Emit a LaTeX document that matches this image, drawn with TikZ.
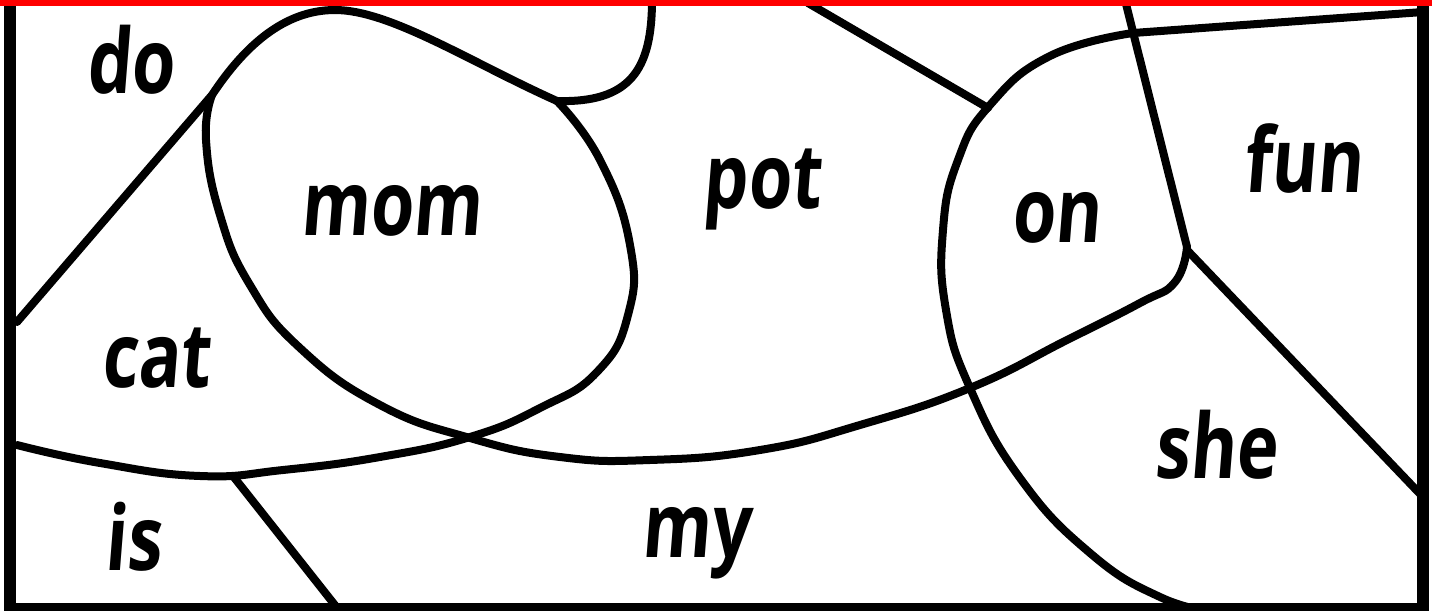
\documentclass[tikz,border=0pt]{standalone}
\usepackage{fontspec}
\newfontfamily\wordfont[FakeStretch=0.78, FakeSlant=0.08]{Open Sans}
\definecolor{ink}{HTML}{000000}
\definecolor{edge}{HTML}{FF0000}
\tikzset{
  line/.style={draw=ink, line width=4pt, line cap=round, line join=round},
  curve/.style={smooth, tension=0.8},
  frame/.style={draw=ink, line width=6pt},
  topline/.style={draw=edge, line width=3pt},
  word/.style={font=\wordfont\bfseries\fontsize{45}{50}\selectfont,
               anchor=base, inner sep=0pt},
}

\begin{document}
\begin{tikzpicture}[x=0.5pt, y=-0.5pt]
\useasboundingbox (0,0) rectangle (1432,611);

% --- left part: do line and the mom blob -------------------------------------------------
\draw[line] (17,322) -- (212,95) .. controls (245,45) and (285,10) .. (335,10)
  .. controls (390,10) and (470,62) .. (557,101);
\draw[line] plot[curve] coordinates {(212,95) (206,140) (220,215) (250,285)
  (300,348) (380,405) (470,438) (560,457) (650,460) (760,450) (860,425)
  (970,388) (1067,340) (1140,303) (1175,282) (1187,247)};
\draw[line] plot[curve] coordinates {(557,101) (600,160) (630,245) (628,315)
  (597,372) (540,408) (470,437) (380,457) (283,470) (200,476)
  (100,463) (17,445)};
\draw[line] (652,0) .. controls (652,70) and (630,103) .. (557,101);
\draw[line] (233,476) -- (338,609);

% --- right part: on blob and straight cuts -----------------------------------------------
\draw[line] (808,3) -- (988,108);
\draw[line] plot[curve] coordinates {(1215,612) (1160,597) (1090,553)
  (1020,478) (970,388) (946,310) (943,230) (958,160) (990,105)
  (1050,56) (1133,33)} -- (1423,12);
\draw[line] (1125,0) -- (1187,247);
\draw[line] (1187,250) -- (1423,497);

% --- border ---------------------------------------------------------------------------
\draw[frame] (10,0) rectangle (1423,609);
\draw[topline] (0,3) -- (1432,3);

% --- words ----------------------------------------------------------------------------
\node[word] (do)  at (130,93)   {do};
\node[word] (mom) at (391,235)  {mom};
\node[word] (pot) at (762,208)  {pot};
\node[word] (on)  at (1056,242) {on};
\node[word] (fun) at (1303,192) {fun};
\node[word] (cat) at (156,387)  {cat};
\node[word] (she) at (1216,478) {she};
\node[word] (is)  at (133,570)  {is};
\node[word] (my)  at (696,557)  {my};

\end{tikzpicture}
\end{document}
